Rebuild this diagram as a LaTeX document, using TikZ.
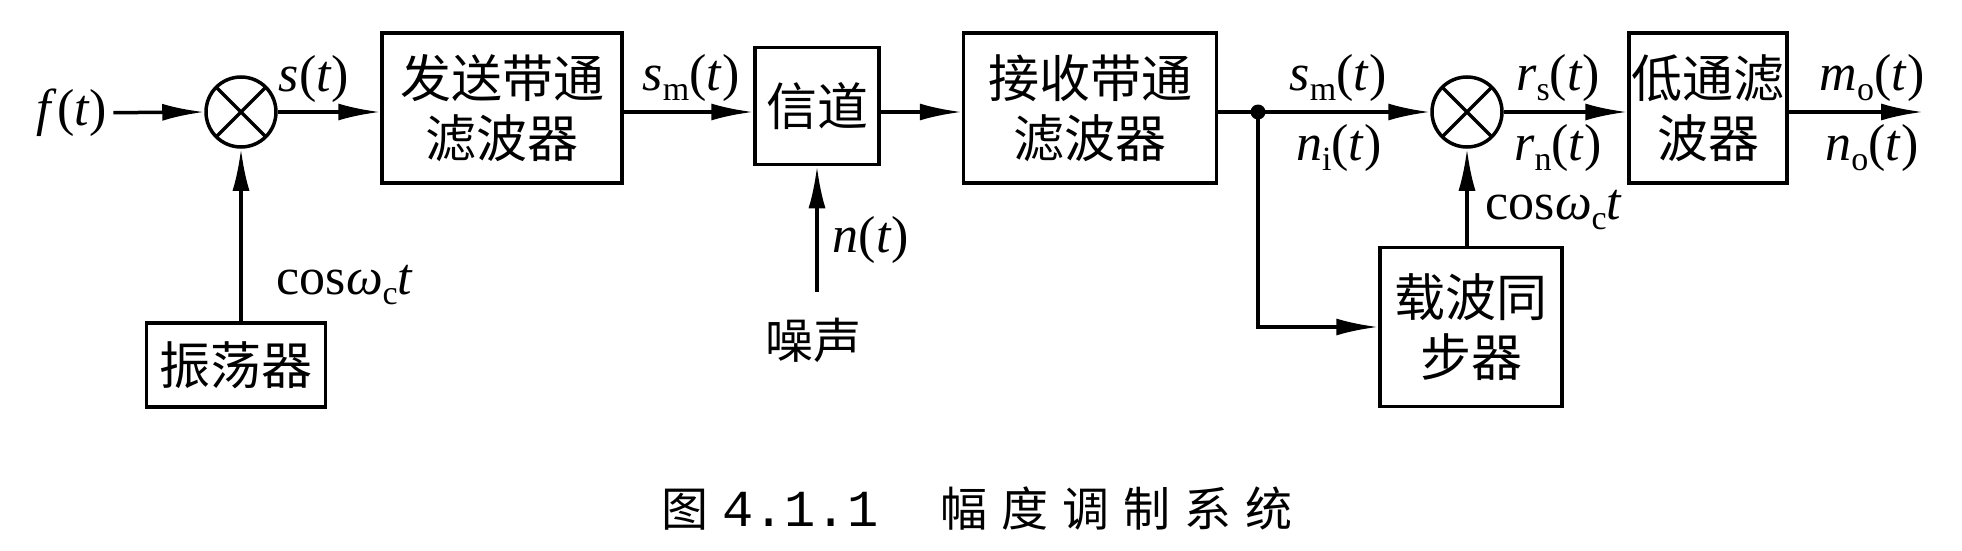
\documentclass[tikz,border=0pt]{standalone}
\usepackage{fontspec}
\setmainfont{Liberation Serif}
\newfontfamily\cjk{Noto Sans CJK SC}
\newfontfamily\capcjk[LetterSpace=30]{Noto Sans CJK SC}
\newfontfamily\capmono{Liberation Mono}
\usetikzlibrary{arrows.meta,calc}
\newcommand{\sigl}[2]{\textit{#1}\raisebox{-0.2em}{\fontsize{34}{34}\selectfont #2}(\textit{t})}
\newcommand{\coswc}{cos\textit{ω}\raisebox{-0.2em}{\fontsize{34}{34}\selectfont c}\textit{t}}
\begin{document}
\begin{tikzpicture}[x=1pt,y=-1pt,
  blk/.style={draw, line width=3.5pt, inner sep=0pt, align=center, font=\cjk\fontsize{51}{60}\selectfont},
  lab/.style={inner sep=0pt, font=\fontsize{52}{56}\selectfont},
  arr/.style={line width=3.5pt, -{Latex[length=42pt,width=17pt]}},
  ln/.style={line width=3.5pt},
  mix/.style={draw, circle, line width=3.5pt, minimum size=70pt, inner sep=0pt,
    path picture={\draw[line width=3.5pt] (path picture bounding box.north west) -- (path picture bounding box.south east)
      (path picture bounding box.north east) -- (path picture bounding box.south west);}}
]
\useasboundingbox (0,0) rectangle (1962,551);

% blocks
\node[lab, inner sep=6pt] (fin) at (72,113) {\textit{f}(\textit{t})};
\node[mix] (m1) at (241,112) {};
\node[blk, minimum width=240pt, minimum height=150pt] (tx) at (502,108) {发送带通\\滤波器};
\node[blk, minimum width=124pt, minimum height=117pt] (ch) at (817,106) {信道};
\node[blk, minimum width=253pt, minimum height=150pt] (rx) at (1090,108) {接收带通\\滤波器};
\node[circle, fill, inner sep=0pt, minimum size=15pt] (dot) at (1258,112) {};
\node[mix] (m2) at (1467,112) {};
\node[blk, minimum width=158pt, minimum height=150pt] (lp) at (1708,108) {低通滤\\波器};
\coordinate (out) at (1923,112);
\node[blk, minimum width=182pt, minimum height=159pt] (cs) at (1471,327) {载波同\\步器};
\node[blk, minimum width=179pt, minimum height=84pt] (osc) at (236,365) {振荡器};
\node[inner sep=0pt, font=\cjk\fontsize{48}{50}\selectfont] (noise) at (813,340) {噪声};
\coordinate (nz) at (817,292);

% connectors
\draw[arr] (fin) -- (m1.west);
\draw[arr] (m1.east) -- (m1.east -| tx.west);
\draw[arr] (tx.east |- m1.center) -- (ch.west |- m1.center);
\draw[arr] (ch.east |- m1.center) -- (rx.west |- m1.center);
\draw[ln] (rx.east |- dot.center) -- (dot.center);
\draw[arr] (dot.center) -- (m2.west);
\draw[arr] (m2.east) -- (lp.west |- m2.center);
\draw[arr] (lp.east |- m2.center) -- (out);
\draw[arr] (dot.center) |- (cs.west);
\draw[arr] (cs.north -| m2.center) -- (m2.south);
\draw[arr] (osc.north -| m1.center) -- (m1.south);
\draw[arr] (nz) -- (ch.south -| nz);

% labels
\node[lab] (st) at (314,79) {\textit{s}(\textit{t})};
\node[lab] (sm1) at (691,78) {\sigl{s}{m}};
\node[lab] (nt) at (871,240) {\textit{n}(\textit{t})};
\node[lab] (cos1) at (345,285) {\coswc};
\node[lab] (sm2) at (1338,78) {\sigl{s}{m}};
\node[lab] (ni) at (1339,148) {\sigl{n}{i}};
\node[lab] (rs) at (1558,78) {\sigl{r}{s}};
\node[lab] (rn) at (1558,148) {\sigl{r}{n}};
\node[lab] (cos2) at (1554,210) {\coswc};
\node[lab] (mo) at (1872,78) {\sigl{m}{o}};
\node[lab] (no) at (1872,148) {\sigl{n}{o}};

% caption
\node[inner sep=0pt, font=\fontsize{47}{50}\selectfont] (cap) at (977,509)
  {{\capcjk 图}\hspace{14pt}{\capmono\fontsize{52}{56}\selectfont 4.1.1}\hspace{62pt}{\capcjk 幅度调制系统}};
\end{tikzpicture}
\end{document}
